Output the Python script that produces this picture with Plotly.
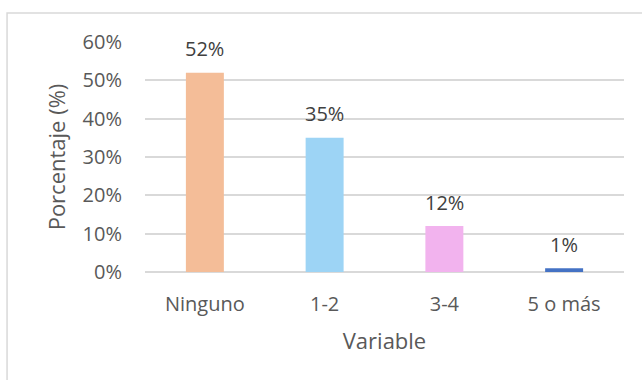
import plotly.graph_objects as go

# Distribution of responses by category
categories = ["Ninguno", "1-2", "3-4", "5 o más"]
values = [0.52, 0.35, 0.12, 0.01]
bar_colors = ["#F4BD98", "#9DD4F5", "#F2B3EE", "#4472C4"]
y_ticks = [0, 0.1, 0.2, 0.3, 0.4, 0.5, 0.6]

FONT = "Open Sans"
GRID = "#D9D9D9"
TEXT = "#595959"

fig = go.Figure(
    go.Bar(
        x=categories,
        y=values,
        marker=dict(color=bar_colors, line=dict(width=0)),
        hoverinfo="skip",
    )
)

# Value labels above each bar
for cat, val in zip(categories, values):
    fig.add_annotation(
        x=cat, y=val, text=f"{val:.0%}", showarrow=False,
        yanchor="middle", yshift=24,
        font=dict(family=FONT, size=20, color="#404040"),
    )

# Chart frame
fig.add_shape(
    type="rect", xref="paper", yref="paper",
    x0=-0.288, x1=1.3, y0=-0.8, y1=1.126,
    line=dict(color=GRID, width=1.5), fillcolor="rgba(0,0,0,0)", layer="below",
)

fig.update_layout(
    width=642, height=380,
    margin=dict(l=145, r=18, t=42, b=108),
    paper_bgcolor="white", plot_bgcolor="white",
    bargap=0.683,
    showlegend=False,
    font=dict(family=FONT, color=TEXT),
    xaxis=dict(
        title=dict(text="Variable", font=dict(family=FONT, size=22, color=TEXT), standoff=17),
        tickfont=dict(family=FONT, size=20, color=TEXT),
        ticks="outside", ticklen=14, tickcolor="rgba(0,0,0,0)",
        showline=False, showgrid=False, zeroline=False,
    ),
    yaxis=dict(
        title=dict(text="Porcentaje (%)", font=dict(family=FONT, size=22, color=TEXT), standoff=10),
        range=[0, 0.6],
        tickvals=y_ticks,
        tickformat=".0%",
        tickfont=dict(family=FONT, size=20, color=TEXT),
        ticks="outside", ticklen=18, tickcolor="rgba(0,0,0,0)",
        showgrid=True, gridcolor=GRID, gridwidth=1.5,
        zeroline=True, zerolinecolor=GRID, zerolinewidth=1.5,
        showline=False,
    ),
)

fig.write_html("out.html")
